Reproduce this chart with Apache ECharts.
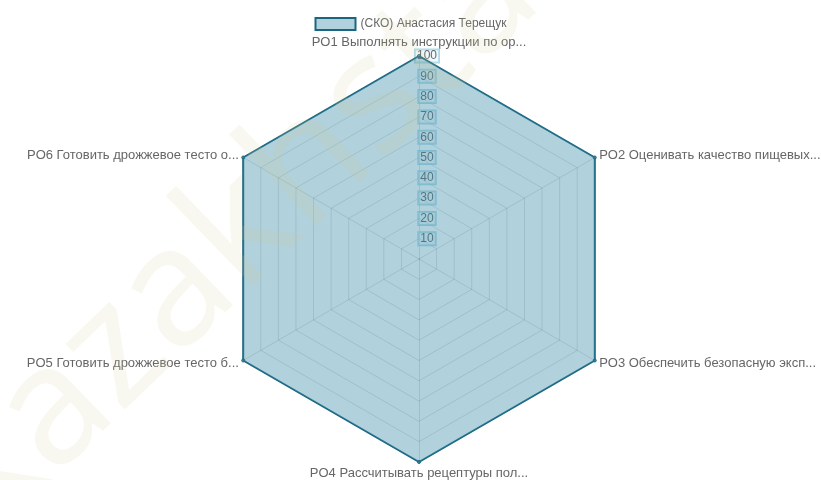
<!DOCTYPE html>
<html>
<head>
<meta charset="utf-8">
<script src="https://cdn.jsdelivr.net/npm/echarts@6/dist/echarts.min.js"></script>
<style>
  html, body { margin: 0; padding: 0; background: #fff; }
  #chart { width: 821px; height: 480px; }
</style>
</head>
<body>
<div id="chart"></div>
<script>
var indicators = [
    "PO1 Выполнять инструкции по ор...",
    "PO2 Оценивать качество пищевых...",
    "PO3 Обеспечить безопасную эксп...",
    "PO4 Рассчитывать рецептуры пол...",
    "PO5 Готовить дрожжевое тесто б...",
    "PO6 Готовить дрожжевое тесто о..."
];
var seriesName = "(СКО) Анастасия Терещук";
var seriesValues = [100, 100, 100, 100, 100, 100];
var axisMax = 100;

var labelFont = "'Liberation Sans', Arial, sans-serif";

var myChart = echarts.init(document.getElementById("chart"));

// echarts рисует оси против часовой стрелки, а в оригинале по часовой
var order = [0];
for(var k = indicators.length - 1; k > 0; k--){
    order.push(k);
}

var indicatorList = order.map(function(idx, i){
    var item = { name: indicators[idx], min: 0, max: axisMax };
    if(i === 0){
        // шкала только на первой оси
        item.axisLabel = {
            show: true,
            showMinLabel: false,
            color: "#666",
            fontSize: 12,
            fontFamily: labelFont,
            margin: -8,
            align: "center",
            verticalAlign: "middle",
            backgroundColor: "rgba(215,238,246,0.35)",
            borderColor: "rgba(150,210,228,0.8)",
            borderWidth: 1,
            padding: [1, 2, 0, 2]
        };
    }
    return item;
});
var orderedValues = order.map(function(idx){ return seriesValues[idx]; });

var option = {
    backgroundColor: "#fff",
    animation: false,
    graphic: [{
        type: "text",
        x: 15,
        y: 565,
        rotation: Math.PI / 180 * 44,
        silent: true,
        z: 100,
        style: {
            text: "kazakhstan",
            fontSize: 165,
            fontFamily: "'Noto Sans', sans-serif",
            textAlign: "left",
            textVerticalAlign: "bottom",
            fill: "rgba(215,205,150,0.14)"
        }
    }],
    legend: {
        top: 12,
        left: "center",
        icon: "rect",
        itemWidth: 40,
        itemHeight: 12,
        itemGap: 6,
        data: [seriesName],
        itemStyle: { borderColor: "#1a6680", borderWidth: 2 },
        textStyle: { color: "#666", fontSize: 12, fontFamily: labelFont }
    },
    radar: {
        center: [419, 259],
        radius: 203,
        shape: "polygon",
        splitNumber: 10,
        startAngle: 90,
        indicator: indicatorList,
        axisName: {
            color: "#666",
            fontSize: 13,
            fontFamily: labelFont
        },
        nameGap: 5,
        axisLabel: { show: false },
        axisLine: { lineStyle: { color: "rgba(0,0,0,0.12)" } },
        splitLine: { lineStyle: { color: "rgba(0,0,0,0.12)", width: 1 } },
        splitArea: { show: false }
    },
    series: [{
        name: seriesName,
        type: "radar",
        symbol: "circle",
        symbolSize: 3,
        itemStyle: { color: "rgba(60,141,168,0.4)", borderColor: "#1a6680", borderWidth: 1 },
        lineStyle: { color: "#1a6680", width: 2 },
        areaStyle: { color: "rgba(60,141,168,0.4)", opacity: 1 },
        data: [{ value: orderedValues, name: seriesName }]
    }]
};

myChart.setOption(option);
</script>
</body>
</html>
